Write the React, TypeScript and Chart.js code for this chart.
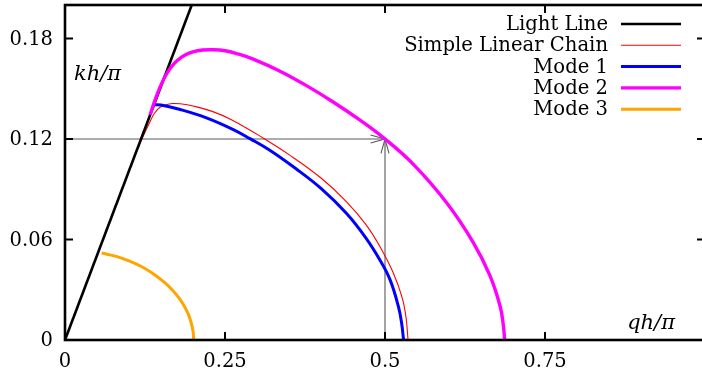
import { useEffect, useRef } from "react";
import { Chart, registerables } from "chart.js";

Chart.register(...registerables);

const SERIF = '"DejaVu Serif", serif';

// Axis ticks
const xTickValues = [0, 0.25, 0.5, 0.75];
const xTickLabels = ["0", "0.25", "0.5", "0.75"];
const yTickValues = [0, 0.06, 0.12, 0.18];
const yTickLabels = ["0", "0.06", "0.12", "0.18"];

// Series (q and k both in units of pi/h)
const lightQ = [0, 0.198];
const lightK = [0, 0.2];

const chainQ = [0, 0.1, 0.115, 0.125, 0.133, 0.14, 0.148, 0.158, 0.168, 0.18, 0.2, 0.23, 0.26, 0.31, 0.35, 0.4, 0.44, 0.47, 0.492, 0.513, 0.527, 0.533, 0.536];
const chainK = [0, 0.101, 0.1155, 0.124, 0.1305, 0.1355, 0.1388, 0.1405, 0.1412, 0.141, 0.1397, 0.1365, 0.1315, 0.1205, 0.1107, 0.0967, 0.0825, 0.069, 0.0558, 0.04, 0.025, 0.013, 0];

const mode1Q = [0.138, 0.15, 0.18, 0.221, 0.263, 0.289, 0.32, 0.36, 0.4, 0.44, 0.47, 0.492, 0.508, 0.521, 0.526, 0.529];
const mode1K = [0.1405, 0.1403, 0.1376, 0.1326, 0.1256, 0.1202, 0.1133, 0.1025, 0.0905, 0.0755, 0.061, 0.0478, 0.0359, 0.0199, 0.01, 0];

const mode2Q = [0.133, 0.14, 0.148, 0.156, 0.165, 0.175, 0.187, 0.2, 0.215, 0.23, 0.25, 0.27, 0.294, 0.336, 0.378, 0.419, 0.461, 0.5, 0.544, 0.596, 0.638, 0.664, 0.68, 0.685, 0.687];
const mode2K = [0.1345, 0.1425, 0.1505, 0.157, 0.1625, 0.1667, 0.17, 0.172, 0.1731, 0.1733, 0.1727, 0.1708, 0.1677, 0.1605, 0.1517, 0.1421, 0.1312, 0.12, 0.105, 0.0821, 0.0582, 0.0384, 0.02, 0.0085, 0];

const mode3Q = [0.0573, 0.08, 0.1, 0.12, 0.14, 0.155, 0.168, 0.178, 0.186, 0.192, 0.196, 0.199, 0.2005, 0.201];
const mode3K = [0.0519, 0.0499, 0.0472, 0.0437, 0.039, 0.0345, 0.0297, 0.0251, 0.0205, 0.016, 0.0118, 0.0074, 0.004, 0];

const seriesNames = ["Light Line", "Simple Linear Chain", "Mode 1", "Mode 2", "Mode 3"];
const seriesColors = ["#000000", "#ff0000", "#0000ff", "#ff00ff", "#ffa500"];
const seriesWidths = [2.6, 1.1, 3, 3.4, 3];
const seriesOrder = [4, 5, 3, 1, 2];

// Marked point on Mode 2
const markQ = 0.5;
const markK = 0.12;

const toPoints = (q: number[], k: number[]) => q.map((v, i) => ({ x: v, y: k[i] }));
const seriesPoints = [
  toPoints(lightQ, lightK),
  toPoints(chainQ, chainK),
  toPoints(mode1Q, mode1K),
  toPoints(mode2Q, mode2K),
  toPoints(mode3Q, mode3K),
];

function arrowHead(ctx: CanvasRenderingContext2D, tx: number, ty: number, angle: number) {
  const len = 15;
  const spread = 0.27;
  ctx.beginPath();
  ctx.moveTo(tx - len * Math.cos(angle - spread), ty - len * Math.sin(angle - spread));
  ctx.lineTo(tx, ty);
  ctx.lineTo(tx - len * Math.cos(angle + spread), ty - len * Math.sin(angle + spread));
  ctx.stroke();
}

const framePlugin = {
  id: "frame",
  beforeDatasetsDraw(chart: any) {
    const { ctx, scales } = chart;
    const xs = scales.x;
    const ys = scales.y;
    const x0 = xs.getPixelForValue(0);
    const y0 = ys.getPixelForValue(0);
    const px = xs.getPixelForValue(markQ);
    const py = ys.getPixelForValue(markK);
    ctx.save();
    ctx.strokeStyle = "#5a5a5a";
    ctx.lineWidth = 1.1;
    ctx.beginPath();
    ctx.moveTo(x0, py);
    ctx.lineTo(px, py);
    ctx.moveTo(px, y0);
    ctx.lineTo(px, py);
    ctx.stroke();
    arrowHead(ctx, px, py, 0);
    arrowHead(ctx, px, py, -Math.PI / 2);
    ctx.restore();
  },
  afterDatasetsDraw(chart: any) {
    const { ctx, chartArea, scales } = chart;
    const xs = scales.x;
    const ys = scales.y;
    const { left, right, top, bottom } = chartArea;
    ctx.save();
    // border
    ctx.strokeStyle = "#000";
    ctx.lineWidth = 2.6;
    ctx.strokeRect(left, top, right - left, bottom - top);
    // inward ticks on all four sides
    ctx.lineWidth = 2;
    const tl = 8;
    ctx.beginPath();
    xTickValues.forEach((v) => {
      if (v === 0) return;
      const p = xs.getPixelForValue(v);
      ctx.moveTo(p, bottom);
      ctx.lineTo(p, bottom - tl);
      ctx.moveTo(p, top);
      ctx.lineTo(p, top + tl);
    });
    yTickValues.forEach((v) => {
      if (v === 0) return;
      const p = ys.getPixelForValue(v);
      ctx.moveTo(left, p);
      ctx.lineTo(left + tl, p);
      ctx.moveTo(right, p);
      ctx.lineTo(right - tl, p);
    });
    ctx.stroke();
    // tick labels
    ctx.fillStyle = "#000";
    ctx.font = `19.5px ${SERIF}`;
    ctx.textAlign = "right";
    ctx.textBaseline = "middle";
    yTickValues.forEach((v, i) => {
      ctx.fillText(yTickLabels[i], left - 12, ys.getPixelForValue(v) + 1);
    });
    ctx.textAlign = "center";
    xTickValues.forEach((v, i) => {
      ctx.fillText(xTickLabels[i], xs.getPixelForValue(v), bottom + 22);
    });
    // axis titles
    ctx.font = `italic 21px ${SERIF}`;
    ctx.textBaseline = "alphabetic";
    ctx.textAlign = "left";
    ctx.fillText("kh/π", left + 9, top + 75);
    ctx.textAlign = "right";
    ctx.fillText("qh/π", left + 610, bottom - 11);
    // key
    ctx.font = `19.6px ${SERIF}`;
    ctx.textBaseline = "middle";
    ctx.textAlign = "right";
    seriesNames.forEach((name, i) => {
      const ry = top + 19 + i * 21.3;
      ctx.fillStyle = "#000";
      ctx.fillText(name, left + 543, ry + 1);
      ctx.strokeStyle = seriesColors[i];
      ctx.lineWidth = seriesWidths[i];
      ctx.beginPath();
      ctx.moveTo(left + 556, ry);
      ctx.lineTo(left + 616, ry);
      ctx.stroke();
    });
    ctx.restore();
  },
};

export default function App() {
  const canvasRef = useRef<HTMLCanvasElement>(null);

  useEffect(() => {
    const canvas = canvasRef.current;
    if (!canvas) return;
    const chart = new Chart(canvas, {
      type: "scatter",
      data: {
        datasets: seriesNames.map((name, i) => ({
          label: name,
          data: seriesPoints[i],
          showLine: true,
          borderColor: seriesColors[i],
          backgroundColor: seriesColors[i],
          borderWidth: seriesWidths[i],
          pointRadius: 0,
          pointHoverRadius: 0,
          tension: 0.4,
          order: seriesOrder[i],
        })),
      },
      options: {
        responsive: false,
        animation: false,
        devicePixelRatio: 1,
        layout: { padding: { left: 65, top: 5, right: 7, bottom: 36 } },
        plugins: {
          legend: { display: false },
          tooltip: { enabled: false },
        },
        events: [],
        scales: {
          x: { type: "linear", min: 0, max: 1, display: false },
          y: { type: "linear", min: 0, max: 0.2, display: false },
        },
      },
      plugins: [framePlugin],
    });
    return () => chart.destroy();
  }, []);

  return (
    <div
      style={{
        position: "fixed",
        left: 0,
        top: 0,
        width: 702,
        height: 376,
        overflow: "hidden",
        background: "#fff",
      }}
    >
      <canvas ref={canvasRef} width={712} height={376} style={{ display: "block", width: 712, height: 376 }} />
    </div>
  );
}
